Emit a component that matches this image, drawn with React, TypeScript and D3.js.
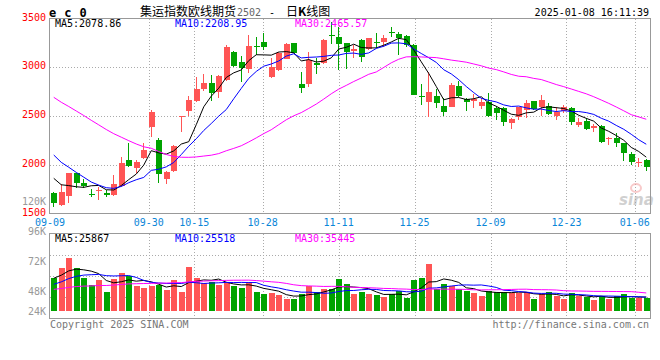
import React from 'react';
import * as d3 from 'd3';

const dates = [
  '09-09','09-10','09-11','09-12','09-13','09-18','09-19','09-20','09-23','09-24',
  '09-25','09-26','09-27','09-30','10-08','10-09','10-10','10-11','10-14','10-15',
  '10-16','10-17','10-18','10-21','10-22','10-23','10-24','10-25','10-28','10-29',
  '10-30','10-31','11-01','11-04','11-05','11-06','11-07','11-08','11-11','11-12',
  '11-13','11-14','11-15','11-18','11-19','11-20','11-21','11-22','11-25','11-26',
  '11-27','11-28','11-29','12-02','12-03','12-04','12-05','12-06','12-09','12-10',
  '12-11','12-12','12-13','12-16','12-17','12-18','12-19','12-20','12-23','12-24',
  '12-25','12-26','12-27','12-30','12-31','01-02','01-03','01-06','01-07','01-08',
];

const opens = [
  1712,1592,1685,1917,1821,1705,1739,1712,1695,1787,
  2054,1975,2071,2396,2259,1855,1941,2498,2560,2659,
  2779,2847,2755,2874,3161,3059,2984,3226,3264,2908,
  2977,3086,3250,2833,2833,3045,3045,3336,3312,3250,
  3175,3285,3189,3264,3267,3370,3346,3326,3233,2710,
  2652,2710,2608,2601,2813,2679,2659,2608,2652,2590,
  2584,2437,2498,2567,2659,2594,2608,2505,2560,2584,
  2413,2454,2379,2402,2266,2276,2225,2115,2019,2054,
];
const highs = [
  1729,1804,1924,1924,1855,1753,1780,1746,1900,2088,
  2231,2054,2231,2567,2283,1944,2204,2505,2710,2902,
  2936,2925,2922,3233,3175,3120,3336,3319,3360,3097,
  3161,3250,3257,2960,3158,3097,3291,3473,3421,3257,
  3233,3291,3309,3353,3336,3414,3370,3336,3244,2833,
  2960,2779,2686,2847,2864,2686,2731,2686,2738,2608,
  2594,2481,2601,2669,2659,2720,2635,2594,2618,2594,
  2481,2488,2423,2409,2293,2327,2231,2139,2071,2061,
];
const lows = [
  1575,1585,1609,1763,1763,1671,1643,1678,1688,1780,
  1985,1924,2061,2293,1821,1808,1934,2344,2505,2652,
  2765,2662,2686,2867,3011,2857,2943,3131,3182,2898,
  2970,3086,3148,2738,2806,2936,3035,3244,2977,2984,
  3097,3062,3182,3199,3216,3319,3131,3216,2720,2618,
  2498,2584,2505,2594,2703,2560,2584,2573,2498,2464,
  2402,2372,2464,2481,2567,2505,2515,2464,2532,2413,
  2396,2362,2344,2225,2208,2191,2047,2003,1979,1944,
];
const closes = [
  1609,1729,1917,1821,1790,1691,1746,1695,1808,2019,
  1996,2030,2156,2546,1907,1931,2197,2505,2669,2779,
  2847,2744,2915,3216,3018,2994,3223,3216,3209,3004,
  3155,3244,3155,2789,3079,3028,3285,3326,3244,3165,
  3189,3114,3302,3250,3302,3353,3302,3233,2720,2697,
  2755,2635,2549,2823,2710,2652,2676,2652,2505,2539,
  2447,2474,2594,2635,2573,2669,2526,2549,2594,2447,
  2447,2368,2406,2242,2276,2231,2129,2037,2033,1985,
];
const volumes = [
  68000,90000,111000,90000,69000,54000,64000,40000,66000,80000,
  73000,51000,48000,51000,55000,44000,64000,40000,92000,69000,
  58000,60000,53000,59000,51000,48000,61000,40000,35000,37000,
  33000,25000,25000,36000,51000,40000,46000,46000,66000,56000,
  35000,40000,35000,33000,29000,36000,42000,28000,64000,69000,
  98000,46000,56000,51000,46000,42000,37000,32000,42000,40000,
  40000,37000,37000,40000,25000,35000,40000,32000,25000,37000,
  32000,30000,23000,32000,25000,32000,35000,26000,26000,26000,
];

// closes and volumes of the 29 sessions before the first visible one (for the moving averages)
const priorCloses = [
  3250,3230,3200,3180,3170,3150,3120,3100,3090,3070,
  3050,3020,3000,2900,2850,2800,2750,2700,2650,2580,
  2480,2420,2350,2280,2190,2060,1960,1880,1821,
];
const priorVolumes = [
  38000,42000,36000,44000,40000,37000,41000,39000,43000,38000,
  40000,36000,42000,39000,41000,40000,38000,42000,37000,42000,
  40000,42000,44000,43000,46000,58000,66000,72000,76000,
];

const dateTicks = ['09-09','09-30','10-15','10-28','11-11','11-25','12-09','12-23','01-06'];
const priceTicks = [3500, 3000, 2500, 2000, 1500];
const priceGrid = [3000, 2500, 2000];
const volTickValues = [120000, 96000, 72000, 48000, 24000];
const volTickLabels = ['120K', '96K', '72K', '48K', '24K'];
const maPeriods = [5, 10, 30];
const maColors = ['#000000', '#0000ff', '#ff00ff'];
const priceMaLabels = ['MA5:2078.86', 'MA10:2208.95', 'MA30:2465.57'];
const volMaLabels = ['MA5:25867', 'MA10:25518', 'MA30:35445'];

const RED = '#ff5555';
const GREEN = '#00a300';
const MONO = '"DejaVu Sans Mono", "Liberation Mono", monospace';

function movingAvg(prior: number[], vals: number[], n: number): number[] {
  const all = prior.concat(vals);
  const off = prior.length;
  return vals.map((_, i) => d3.mean(all.slice(off + i - n + 1, off + i + 1)) as number);
}

export default function App() {
  const W = 660, H = 360;
  const left = 50, right = 650;
  const mainTop = 19, mainBottom = 213;
  const volTop = 234, volBottom = 318;

  const x = d3.scaleBand<string>().domain(dates).range([left, right]);
  const bw = x.bandwidth();
  const cx = (i: number) => (x(dates[i]) as number) + bw / 2;
  const gx = d3.scaleLinear().domain([0, dates.length - 1]).range([left, right]);
  const y = d3.scaleLinear().domain([1500, 3500]).range([214, 19]);
  const yv = d3.scaleLinear().domain([0, 160000]).range([311, 234]);
  const yvLabel = d3.scaleLinear().domain([24000, 120000]).range([325, 204.5]);

  const priceMAs = maPeriods.map((n) => movingAvg(priorCloses, closes, n));
  const volMAs = maPeriods.map((n) => movingAvg(priorVolumes, volumes, n));

  const line = (yy: (v: number) => number) =>
    d3.line<number>().x((_, i) => cx(i)).y((v) => yy(v));

  const crisp = (v: number) => Math.round(v) + 0.5;

  const tickIdx = dateTicks.map((t) => dates.indexOf(t));
  const gridIdx = tickIdx.filter((k) => k > 0 && k < dates.length - 2);

  return (
    <svg width={W} height={H} style={{ position: 'absolute', left: 0, top: 0, background: '#fff' }}
      fontFamily={MONO}>
      <rect x={0} y={0} width={W} height={H} fill="#fff" />
      {/* header */}
      <text x={49} y={16.5} fontSize={12} fontWeight="bold" fill="#000" letterSpacing={0.4}>e c 0</text>
      <text x={140} y={15.5} fontSize={12} fill="#000" fontFamily='"Noto Sans CJK SC", sans-serif'>集运指数欧线期货</text>
      <text x={237} y={15.5} fontSize={10} fill="#666">2502</text>
      <text x={269} y={15.5} fontSize={10} fill="#000">-</text>
      <text x={286} y={15.5} fontSize={12} fill="#000" fontFamily='"Noto Sans CJK SC", sans-serif'>日<tspan fontWeight="bold">K</tspan>线图</text>
      <text x={649} y={15.5} fontSize={10} fill="#000" textAnchor="end">2025-01-08 16:11:39</text>

      {/* main grid */}
      {priceGrid.map((p) => (
        <line key={'pg' + p} x1={left} x2={right} y1={crisp(y(p) - 0.5)} y2={crisp(y(p) - 0.5)}
          stroke="#aaa" strokeDasharray="1,2" />
      ))}
      {gridIdx.map((k) => (
        <line key={'vg' + k} x1={crisp(gx(k))} x2={crisp(gx(k))} y1={mainTop} y2={mainBottom}
          stroke="#aaa" strokeDasharray="1,2" />
      ))}
      {/* volume grid */}
      {[255, 276, 297].map((gy) => null)}
      {[0.25, 0.5, 0.75].map((f) => {
        const gy = crisp(volTop + (volBottom - volTop) * f - 0.5);
        return <line key={'vhg' + f} x1={left} x2={right} y1={gy} y2={gy} stroke="#aaa" strokeDasharray="1,2" />;
      })}
      {gridIdx.map((k) => (
        <line key={'vvg' + k} x1={crisp(gx(k))} x2={crisp(gx(k))} y1={volTop} y2={volBottom}
          stroke="#aaa" strokeDasharray="1,2" />
      ))}

      {/* watermark */}
      <g opacity={0.55}>
        <ellipse cx={636} cy={188} rx={5} ry={4} fill="none" stroke="#f4a0a0" strokeWidth={2} />
        <text x={619} y={205} fontSize={15} fontWeight="bold" fontStyle="italic" fill="#aaa"
          fontFamily='"DejaVu Sans", sans-serif'>sina</text>
      </g>

      {/* candles */}
      {dates.map((d, i) => {
        const up = closes[i] >= opens[i];
        const col = up ? RED : GREEN;
        const c = Math.floor(cx(i));
        const top = Math.round(y(Math.max(opens[i], closes[i])));
        const bot = Math.round(y(Math.min(opens[i], closes[i])));
        return (
          <g key={'c' + d}>
            <line x1={c + 0.5} x2={c + 0.5} y1={Math.round(y(highs[i]))} y2={Math.round(y(lows[i]))}
              stroke={col} strokeWidth={1} shapeRendering="crispEdges" />
            <rect x={c - 2} y={top} width={6} height={Math.max(1, bot - top)} fill={col}
              shapeRendering="crispEdges" />
          </g>
        );
      })}
      {priceMAs.map((ma, j) => (
        <path key={'pma' + j} d={line(y)(ma) as string} fill="none" stroke={maColors[j]} strokeWidth={1} />
      ))}

      {/* volume bars */}
      {dates.map((d, i) => {
        const up = closes[i] >= opens[i];
        const c = Math.floor(cx(i));
        const top = Math.round(yv(volumes[i]));
        return (
          <rect key={'v' + d} x={c - 2} y={top} width={6} height={Math.round(yv(0)) - top}
            fill={up ? RED : GREEN} shapeRendering="crispEdges" />
        );
      })}
      {volMAs.map((ma, j) => (
        <path key={'vma' + j} d={line(yv)(ma) as string} fill="none" stroke={maColors[j]} strokeWidth={1} />
      ))}

      {/* borders */}
      <rect x={left - 0.5} y={mainTop - 0.5} width={right - left + 1} height={mainBottom - mainTop + 1}
        fill="none" stroke="#999" />
      <rect x={left - 0.5} y={volTop - 0.5} width={right - left + 1} height={volBottom - volTop + 1}
        fill="none" stroke="#999" />

      {/* price axis labels */}
      {priceTicks.map((p) => (
        <text key={'pt' + p} x={46} y={y(p) + 1.5} fontSize={10} fill="#ff0000" textAnchor="end">{p}</text>
      ))}
      {/* volume axis labels */}
      {volTickValues.map((v, k) => (
        <text key={'vt' + v} x={46} y={Math.min(yvLabel(v), 314.5)} fontSize={10} fill="#999" textAnchor="end">
          {volTickLabels[k]}
        </text>
      ))}
      {/* date labels */}
      {tickIdx.map((k, j) => (
        <text key={'dt' + j} x={Math.min(gx(k), right - 15)} y={225.5} fontSize={10} fill="#0a86d8"
          textAnchor="middle">{dateTicks[j]}</text>
      ))}

      {/* MA legends */}
      {priceMaLabels.map((t, j) => (
        <text key={'pml' + j} x={55 + j * 120} y={27} fontSize={10} fill={maColors[j]}>{t}</text>
      ))}
      {volMaLabels.map((t, j) => (
        <text key={'vml' + j} x={55 + j * 120} y={242} fontSize={10} fill={maColors[j]}>{t}</text>
      ))}

      {/* footer */}
      <text x={50} y={327.5} fontSize={10} fill="#777">Copyright 2025 SINA.COM</text>
      <text x={649} y={327.5} fontSize={10} fill="#777" textAnchor="end">http://finance.sina.com.cn</text>
    </svg>
  );
}
